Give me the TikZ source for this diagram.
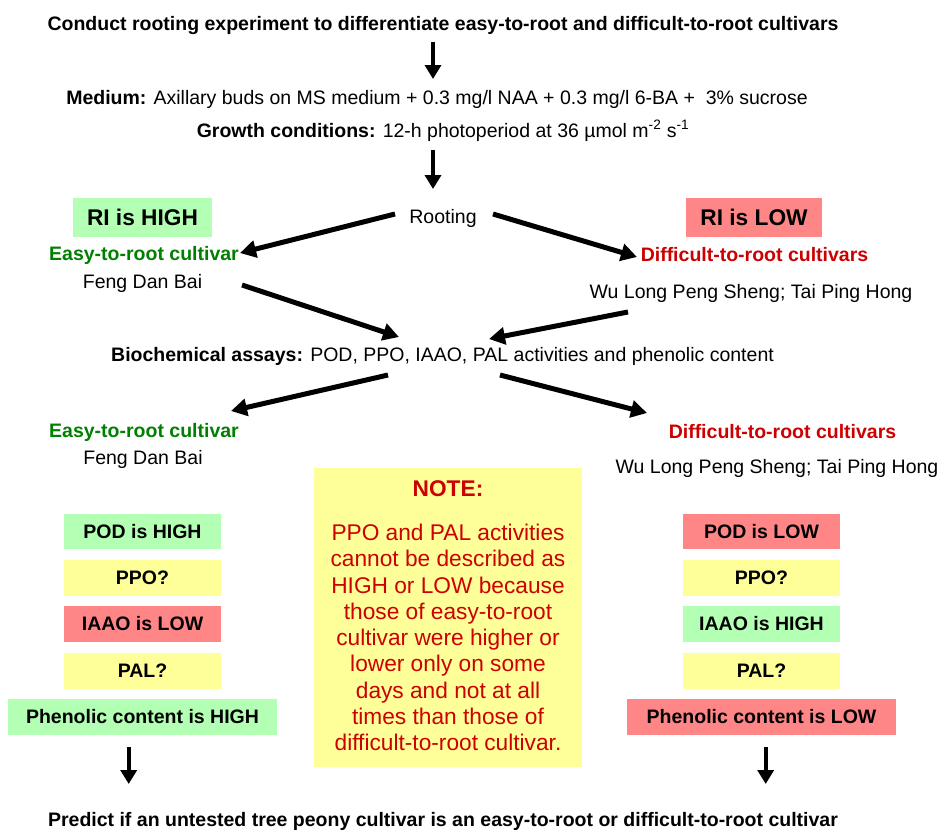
\documentclass[tikz,border=0pt]{standalone}
\usepackage{fontspec}
\setmainfont{Liberation Sans}
\usetikzlibrary{arrows.meta}
\definecolor{gbox}{RGB}{179,255,179}
\definecolor{rbox}{RGB}{255,134,134}
\definecolor{ybox}{RGB}{255,255,153}
\definecolor{gtxt}{RGB}{0,128,0}
\definecolor{rtxt}{RGB}{204,0,0}
\begin{document}
\begin{tikzpicture}[x=1pt,y=-1pt,
  every node/.style={inner sep=0pt, outer sep=0pt},
  plain/.style={font=\fontsize{19.5}{23}\selectfont},
  boldtxt/.style={font=\fontsize{19.5}{23}\selectfont\bfseries},
  gtitle/.style={boldtxt, text=gtxt},
  rtitle/.style={boldtxt, text=rtxt},
  ribox/.style={font=\fontsize{22.7}{26}\selectfont\bfseries, minimum width=139pt, minimum height=39pt},
  statbox/.style={font=\fontsize{19.5}{23}\selectfont\bfseries, minimum width=157pt, minimum height=35.5pt},
  widebox/.style={statbox, minimum width=269pt},
  bigarrow/.style={line width=4pt, -{Triangle[length=14pt,width=16pt]}},
  diagarrow/.style={line width=5pt, -{Triangle[length=16pt,width=17pt]}},
]
\useasboundingbox (0,0) rectangle (942,830);

% top
\node[boldtxt] (title) at (443,25) {Conduct rooting experiment to differentiate easy-to-root and difficult-to-root cultivars};
\coordinate (a1s) at (433,42);
\coordinate (a1e) at (433,79);
\draw[bigarrow] (a1s) -- (a1e);
\node[plain] (medium) at (437,99) {\textbf{Medium:} Axillary buds on MS medium + 0.3 mg/l NAA + 0.3 mg/l 6-BA + ~3\% sucrose};
\node[plain] (growth) at (443,131) {\textbf{Growth conditions:} 12-h photoperiod at 36 µmol m\textsuperscript{-2} s\textsuperscript{-1}};
\coordinate (a2s) at (433,150);
\coordinate (a2e) at (433,189);
\draw[bigarrow] (a2s) -- (a2e);

% rooting
\node[ribox, fill=gbox] (rihigh) at (142.5,217.5) {RI is HIGH};
\node[ribox, fill=rbox, minimum width=136pt] (rilow) at (754,217.5) {RI is LOW};
\node[plain] (rooting) at (443,218) {Rooting};
\node[gtitle] (easy1) at (144,255) {Easy-to-root cultivar};
\node[rtitle] (diff1) at (754.5,255) {Difficult-to-root cultivars};
\node[plain] (feng1) at (142.5,283) {Feng Dan Bai};
\node[plain] (wu1) at (751,293) {Wu Long Peng Sheng; Tai Ping Hong};

\coordinate (r1s) at (395,214);
\coordinate (r1e) at (240,253);
\coordinate (r2s) at (493,214);
\coordinate (r2e) at (637,257);
\draw[diagarrow] (r1s) -- (r1e);
\draw[diagarrow] (r2s) -- (r2e);

% biochemical
\node[plain] (bio) at (442.5,356) {\textbf{Biochemical assays:} POD, PPO, IAAO, PAL activities and phenolic content};
\coordinate (b1s) at (242,285);
\coordinate (b1e) at (399,337);
\coordinate (b2s) at (628,312);
\coordinate (b2e) at (489,339);
\draw[diagarrow] (b1s) -- (b1e);
\draw[diagarrow] (b2s) -- (b2e);

\coordinate (c1s) at (388,375);
\coordinate (c1e) at (231,411);
\coordinate (c2s) at (500,375);
\coordinate (c2e) at (647,413);
\draw[diagarrow] (c1s) -- (c1e);
\draw[diagarrow] (c2s) -- (c2e);

\node[gtitle] (easy2) at (144,432) {Easy-to-root cultivar};
\node[plain] (feng2) at (143,459) {Feng Dan Bai};
\node[rtitle] (diff2) at (782.5,432) {Difficult-to-root cultivars};
\node[plain] (wu2) at (777,468) {Wu Long Peng Sheng; Tai Ping Hong};

% left column
\node[statbox, fill=gbox] (podh) at (142.5,531.5) {POD is HIGH};
\node[statbox, fill=ybox] (ppol) at (142.5,578) {PPO?};
\node[statbox, fill=rbox] (iaaol) at (142.5,624) {IAAO is LOW};
\node[statbox, fill=ybox] (pall) at (142.5,671) {PAL?};
\node[widebox, fill=gbox] (phenh) at (142.5,717) {Phenolic content is HIGH};

% right column
\node[statbox, fill=rbox] (podl) at (761.5,531.5) {POD is LOW};
\node[statbox, fill=ybox] (ppor) at (761.5,578) {PPO?};
\node[statbox, fill=gbox] (iaaoh) at (761.5,624) {IAAO is HIGH};
\node[statbox, fill=ybox] (palr) at (761.5,671) {PAL?};
\node[widebox, fill=rbox] (phenl) at (761.5,717) {Phenolic content is LOW};

% note
\node[fill=ybox, minimum width=268pt, minimum height=299pt] (notebox) at (448,617.5) {};
\node[font=\fontsize{22.7}{26}\selectfont\bfseries, text=rtxt] (notetitle) at (448,489) {NOTE:};
\node[font=\fontsize{22.7}{26.3}\selectfont, text=rtxt, align=center, anchor=north] (notetext) at (448,524) {PPO and PAL activities\\cannot be described as\\HIGH or LOW because\\those of easy-to-root\\cultivar were higher or\\lower only on some\\days and not at all\\times than those of\\difficult-to-root cultivar.};

% bottom
\coordinate (d1s) at (128.7,747);
\coordinate (d1e) at (128.7,784);
\coordinate (d2s) at (765.7,747);
\coordinate (d2e) at (765.7,784);
\draw[bigarrow] (d1s) -- (d1e);
\draw[bigarrow] (d2s) -- (d2e);
\node[boldtxt] (predict) at (443,821) {Predict if an untested tree peony cultivar is an easy-to-root or difficult-to-root cultivar};
\end{tikzpicture}
\end{document}
